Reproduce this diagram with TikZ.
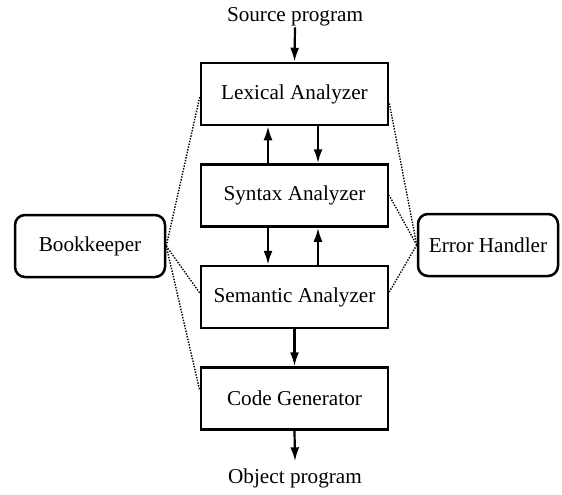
\documentclass[tikz,border=0pt]{standalone}
\usepackage{fontspec}
\setmainfont{Liberation Serif}
\usetikzlibrary{arrows.meta}
\begin{document}
\begin{tikzpicture}[x=0.5pt,y=-0.5pt,
  font=\fontsize{10.6pt}{12pt}\selectfont,
  stage/.style={draw,line width=1.25pt,minimum width=93.5pt,minimum height=31pt,inner sep=0pt},
  side/.style={draw,line width=1.25pt,rounded corners=5pt,minimum height=31pt,inner sep=0pt},
  arr/.style={line width=1.1pt,-{Latex[length=7pt,width=4.5pt]}},
  link/.style={line width=0.7pt,dash pattern=on 0.7pt off 0.7pt}]
\useasboundingbox (0,0) rectangle (562,494);
\node (src) at (295,17) {Source program};
\node[stage] (L) at (294.5,94) {Lexical Analyzer};
\node[stage] (S) at (294.5,195.5) {Syntax Analyzer};
\node[stage] (M) at (294.5,297) {Semantic Analyzer};
\node[stage] (C) at (294.5,398.5) {Code Generator};
\node (obj) at (295,478) {Object program};
\node[side,minimum width=75pt] (B) at (90,246) {Bookkeeper};
\node[side,minimum width=70pt] (E) at (488,245) {Error Handler};
\draw[arr] ([yshift=3pt]src.south) -- (L.north);
\draw[arr] ([xshift=-13.25pt]S.north) -- ([xshift=-13.25pt]L.south);
\draw[arr] ([xshift=11.75pt]L.south) -- ([xshift=11.75pt]S.north);
\draw[arr] ([xshift=-13.25pt]S.south) -- ([xshift=-13.25pt]M.north);
\draw[arr] ([xshift=11.75pt]M.north) -- ([xshift=11.75pt]S.south);
\draw[arr] (M.south) -- (C.north);
\draw[arr] (C.south) -- (obj.north);
\draw[link] (B.east) -- ([yshift=-1.5pt]L.west);
\draw[link] (B.east) -- ([yshift=2pt]M.west);
\draw[link] (B.east) -- ([yshift=4pt]C.west);
\draw[link] (E.west) -- ([yshift=-4.5pt]L.east);
\draw[link] (E.west) -- (S.east);
\draw[link] (E.west) -- ([yshift=2.5pt]M.east);
\end{tikzpicture}
\end{document}
